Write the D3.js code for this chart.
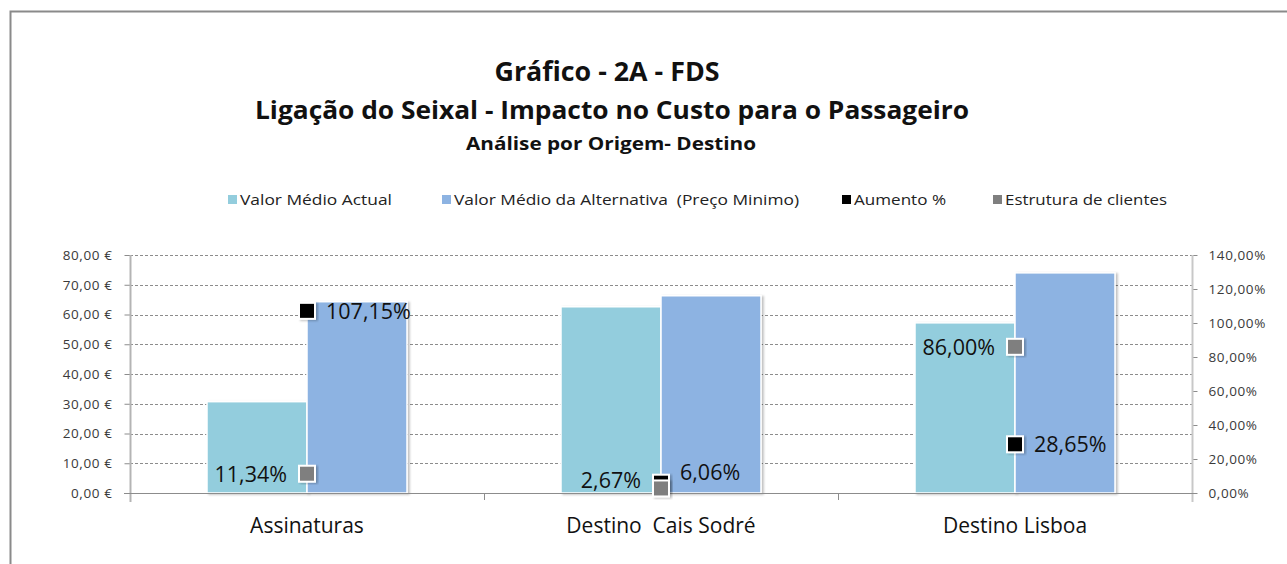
<!DOCTYPE html>
<html>
<head>
<meta charset="utf-8">
<script src="https://cdn.jsdelivr.net/npm/d3@7"></script>
<style>
  body { margin: 0; background: #fff; }
  svg { display: block; }
  text { font-family: "Open Sans", "DejaVu Sans", sans-serif; }
</style>
</head>
<body>
<svg id="chart" width="1287" height="564"></svg>
<script>
// data
const categories = ['Assinaturas', 'Destino  Cais Sodré', 'Destino Lisboa'];
const valorActual = [30.7, 62.6, 57.2];
const valorAlternativa = [64.3, 66.3, 74.0];
const aumento = [1.0715, 0.0606, 0.2865];
const estrutura = [0.1134, 0.0267, 0.86];
const leftTicks = [0, 10, 20, 30, 40, 50, 60, 70, 80];
const rightTicks = [0, 0.2, 0.4, 0.6, 0.8, 1.0, 1.2, 1.4];
const barSeries = ['Valor Médio Actual', 'Valor Médio da Alternativa  (Preço Minimo)'];
const markerSeries = ['Aumento %', 'Estrutura de clientes'];
const colors = ['#93cddd', '#8db3e2', '#000000', '#7f7f7f'];

const pt = d3.formatLocale({decimal: ',', thousands: '.', grouping: [3], currency: ['', ' €']});
const fmtEuro = pt.format('$.2f');
const fmtPct = pt.format('.2%');

let svg = d3.select('#chart'),
    plotLeft = 130, plotRight = 1192, plotTop = 255, plotBottom = 493;

// outer frame
svg.append('rect')
    .attr('x', 10.5).attr('y', 11.5)
    .attr('width', 1400).attr('height', 700)
    .attr('fill', 'none').attr('stroke', '#8a8a8a').attr('stroke-width', 2);

// titles
svg.append('text').attr('x', 607).attr('y', 81).attr('text-anchor', 'middle')
    .attr('font-size', 26).attr('font-weight', 'bold').attr('fill', '#111')
    .attr('textLength', 225).attr('lengthAdjust', 'spacingAndGlyphs')
    .text('Gráfico - 2A - FDS');
svg.append('text').attr('x', 612).attr('y', 119).attr('text-anchor', 'middle')
    .attr('font-size', 25).attr('font-weight', 'bold').attr('fill', '#111')
    .attr('textLength', 714).attr('lengthAdjust', 'spacingAndGlyphs')
    .text('Ligação do Seixal - Impacto no Custo para o Passageiro');
svg.append('text').attr('x', 611).attr('y', 150).attr('text-anchor', 'middle')
    .attr('font-size', 18).attr('font-weight', 'bold').attr('fill', '#111')
    .attr('textLength', 290).attr('lengthAdjust', 'spacingAndGlyphs')
    .text('Análise por Origem- Destino');

// legend
let legendItems = barSeries.concat(markerSeries);
let legendX = [228, 442, 842, 993];
let legendW = [152, 345, 92, 162];
let legend = svg.append('g').attr('class', 'legend');
legendItems.forEach(function (name, i) {
    legend.append('rect')
        .attr('x', legendX[i]).attr('y', 195)
        .attr('width', 9).attr('height', 9)
        .attr('fill', colors[i]);
    legend.append('text')
        .attr('x', legendX[i] + 12).attr('y', 205)
        .attr('font-size', 15).attr('fill', '#222')
        .attr('textLength', legendW[i]).attr('lengthAdjust', 'spacingAndGlyphs')
        .style('white-space', 'pre')
        .text(name);
});

// scales
let x0 = d3.scaleBand().domain(categories).range([plotLeft, plotRight]);
let x1 = d3.scaleBand().domain(barSeries).range([0, x0.bandwidth()]).paddingOuter(0.77);
let yL = d3.scaleLinear().domain([0, 80]).range([plotBottom, plotTop]);
let yR = d3.scaleLinear().domain([0, 1.4]).range([plotBottom, plotTop]);

// gridlines
svg.append('g').selectAll('line').data(leftTicks.slice(1)).enter().append('line')
    .attr('x1', plotLeft).attr('x2', plotRight)
    .attr('y1', function (d) { return Math.round(yL(d)) + 0.5; })
    .attr('y2', function (d) { return Math.round(yL(d)) + 0.5; })
    .attr('stroke', '#8c8c8c').attr('stroke-dasharray', '3,2');

// axes
let axisL = svg.append('g').attr('transform', 'translate(' + (plotLeft + 0.5) + ',0)')
    .call(d3.axisLeft(yL).tickValues(leftTicks).tickFormat(fmtEuro).tickSize(6).tickPadding(12));
let axisR = svg.append('g').attr('transform', 'translate(' + (plotRight + 0.5) + ',0)')
    .call(d3.axisRight(yR).tickValues(rightTicks).tickFormat(fmtPct).tickSize(5).tickPadding(11));
[axisL, axisR].forEach(function (a) {
    a.select('.domain').remove();
    a.selectAll('line').attr('stroke', '#8c8c8c');
    a.selectAll('text').attr('font-family', '"DejaVu Sans", sans-serif')
        .attr('font-size', 13.5).attr('letter-spacing', 0.6).attr('fill', '#3a3a3a');
});
axisL.append('line').attr('y1', plotTop).attr('y2', plotBottom + 9).attr('stroke', '#b4b4b4').attr('stroke-width', 2);
axisR.append('line').attr('y1', plotTop).attr('y2', plotBottom + 9).attr('stroke', '#c8c8c8').attr('stroke-width', 2);

// shadow for bars and markers
let defs = svg.append('defs');
let f = defs.append('filter').attr('id', 'shadow').attr('x', '-10%').attr('y', '-10%')
    .attr('width', '130%').attr('height', '130%');
f.append('feDropShadow').attr('dx', 2).attr('dy', 1).attr('stdDeviation', 1.2)
    .attr('flood-color', '#000').attr('flood-opacity', 0.25);

// bars
let barData = [valorActual, valorAlternativa];
let groups = svg.append('g').selectAll('g').data(categories).enter().append('g')
    .attr('transform', function (d) { return 'translate(' + x0(d) + ',0)'; });
groups.selectAll('rect')
    .data(function (d, i) {
        return barSeries.map(function (s, j) { return {series: s, value: barData[j][i], j: j}; });
    })
    .enter().append('rect')
    .attr('x', function (d) { return x1(d.series); })
    .attr('y', function (d) { return yL(d.value); })
    .attr('width', x1.bandwidth())
    .attr('height', function (d) { return plotBottom - yL(d.value); })
    .attr('fill', function (d) { return colors[d.j]; })
    .attr('stroke', '#fff').attr('stroke-width', 1.5)
    .attr('filter', 'url(#shadow)');

// baseline and category ticks
svg.append('line').attr('x1', plotLeft - 6).attr('x2', plotRight + 5)
    .attr('y1', plotBottom + 0.5).attr('y2', plotBottom + 0.5).attr('stroke', '#8c8c8c');
svg.append('g').selectAll('line').data(categories.slice(1)).enter().append('line')
    .attr('x1', function (d) { return x0(d) + 0.5; })
    .attr('x2', function (d) { return x0(d) + 0.5; })
    .attr('y1', plotBottom).attr('y2', plotBottom + 7).attr('stroke', '#8c8c8c');

// category labels
svg.append('g').selectAll('text').data(categories).enter().append('text')
    .attr('x', function (d) { return x0(d) + x0.bandwidth() / 2; })
    .attr('y', 533).attr('text-anchor', 'middle')
    .attr('font-size', 21).attr('fill', '#111')
    .style('white-space', 'pre')
    .text(function (d) { return d; });

// markers (right axis)
let markerData = [aumento, estrutura];
categories.forEach(function (c, i) {
    let cx = x0(c) + x0.bandwidth() / 2;
    let ya = yR(aumento[i]), ye = yR(estrutura[i]);
    let close = Math.abs(ya - ye) < 16;
    markerData.forEach(function (vals, j) {
        let cy = yR(vals[i]);
        svg.append('rect')
            .attr('x', cx - 8).attr('y', cy - 8)
            .attr('width', 16).attr('height', 16)
            .attr('fill', colors[j + 2])
            .attr('stroke', '#fff').attr('stroke-width', 2)
            .attr('filter', 'url(#shadow)');
    });
    markerData.forEach(function (vals, j) {
        let cy = yR(vals[i]) + (close ? (j === 0 ? -11 : -8) : 0);
        svg.append('text')
            .attr('x', j === 0 ? cx + 19 : cx - 20)
            .attr('y', cy + 8)
            .attr('text-anchor', j === 0 ? 'start' : 'end')
            .attr('font-size', 21.5).attr('fill', '#111')
            .text(fmtPct(vals[i]));
    });
});
</script>
</body>
</html>
